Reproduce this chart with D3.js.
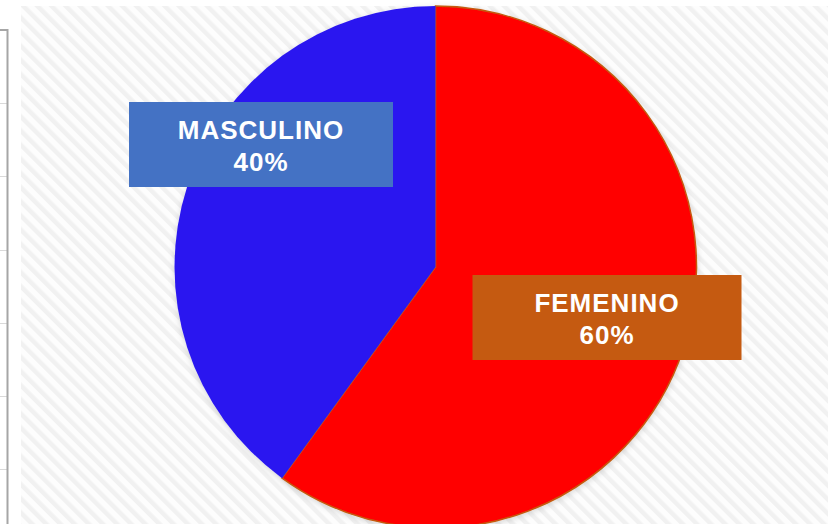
<!DOCTYPE html>
<html>
<head>
<meta charset="utf-8">
<script src="https://cdn.jsdelivr.net/npm/d3@7"></script>
<style>
  html, body { margin: 0; padding: 0; background: #ffffff; }
  svg { display: block; }
</style>
</head>
<body>
<svg id="chart" width="828" height="524"></svg>
<script>
// Data
const categories = ["FEMENINO", "MASCULINO"];
const values = [60, 40];
const percentLabels = ["60%", "40%"];
const sliceColors = ["#ff0000", "#2a18f0"];
const labelBoxColors = ["#c55a11", "#4472c4"];
const leftGridTicks = [0, 1, 2, 3, 4, 5, 6];

const W = 828, H = 524;
const svg = d3.select("#chart");
const defs = svg.append("defs");

// diagonal stripe pattern (top-left to bottom-right)
const pat = defs.append("pattern")
  .attr("id", "stripes")
  .attr("patternUnits", "userSpaceOnUse")
  .attr("width", 10).attr("height", 10)
  .attr("patternTransform", "rotate(-45)");
pat.append("rect").attr("width", 10).attr("height", 10).attr("fill", "#fdfdfd");
pat.append("rect").attr("x", 0).attr("width", 4.5).attr("height", 10).attr("fill", "#f1f1f1");

const shadow = defs.append("filter").attr("id", "shadow")
  .attr("x", "-10%").attr("y", "-10%").attr("width", "120%").attr("height", "120%");
shadow.append("feDropShadow").attr("dx", 0).attr("dy", 2).attr("stdDeviation", 3)
  .attr("flood-color", "#000").attr("flood-opacity", 0.15);

// Left partial panel (another chart's frame)
const gy = d3.scaleLinear().domain([0, 6]).range([30, 469]);
svg.append("g").selectAll("line").data(leftGridTicks.slice(1)).join("line")
  .attr("x1", 0).attr("x2", 7)
  .attr("y1", d => Math.round(gy(d)) + 0.5).attr("y2", d => Math.round(gy(d)) + 0.5)
  .attr("stroke", "#d9d9d9").attr("stroke-width", 1);
svg.append("path")
  .attr("d", `M0,30 H7.5 V${H}`)
  .attr("fill", "none").attr("stroke", "#a6a6a6").attr("stroke-width", 2);

// striped plot background
svg.append("rect")
  .attr("x", 21).attr("y", 6).attr("width", W - 21).attr("height", H - 6)
  .attr("fill", "url(#stripes)");

// Pie
const cx = 435.5, cy = 267, R = 261;
const pie = d3.pie().sort(null).value(d => d.value);
const data = categories.map((c, i) => ({ name: c, value: values[i], pct: percentLabels[i], i }));
const arcs = pie(data);
const arc = d3.arc().innerRadius(0).outerRadius(R);

const g = svg.append("g").attr("transform", `translate(${cx},${cy})`);
g.append("g").attr("filter", "url(#shadow)")
  .selectAll("path").data(arcs).join("path")
  .attr("d", arc)
  .attr("fill", d => sliceColors[d.data.i])
  .attr("stroke", d => d.data.i === 0 ? "#c55a11" : "none")
  .attr("stroke-width", 1.5);

// Labels
const labelBoxes = [
  { cx: 607, cy: 317.5, w: 269, h: 85 },
  { cx: 261, cy: 144.5, w: 264, h: 85 }
];
const lg = svg.append("g");
arcs.forEach(d => {
  const b = labelBoxes[d.data.i];
  const grp = lg.append("g").attr("transform", `translate(${b.cx},${b.cy})`);
  grp.append("rect")
    .attr("x", -b.w / 2).attr("y", -b.h / 2).attr("width", b.w).attr("height", b.h)
    .attr("fill", labelBoxColors[d.data.i]);
  const t = grp.append("text")
    .attr("text-anchor", "middle")
    .attr("font-family", "Liberation Sans, Arial, sans-serif")
    .attr("font-weight", "bold")
    .attr("font-size", 26)
    .attr("letter-spacing", 1)
    .attr("fill", "#ffffff");
  t.append("tspan").attr("x", 0).attr("y", -6).text(d.data.name);
  t.append("tspan").attr("x", 0).attr("y", 26).text(d.data.pct);
});
</script>
</body>
</html>
